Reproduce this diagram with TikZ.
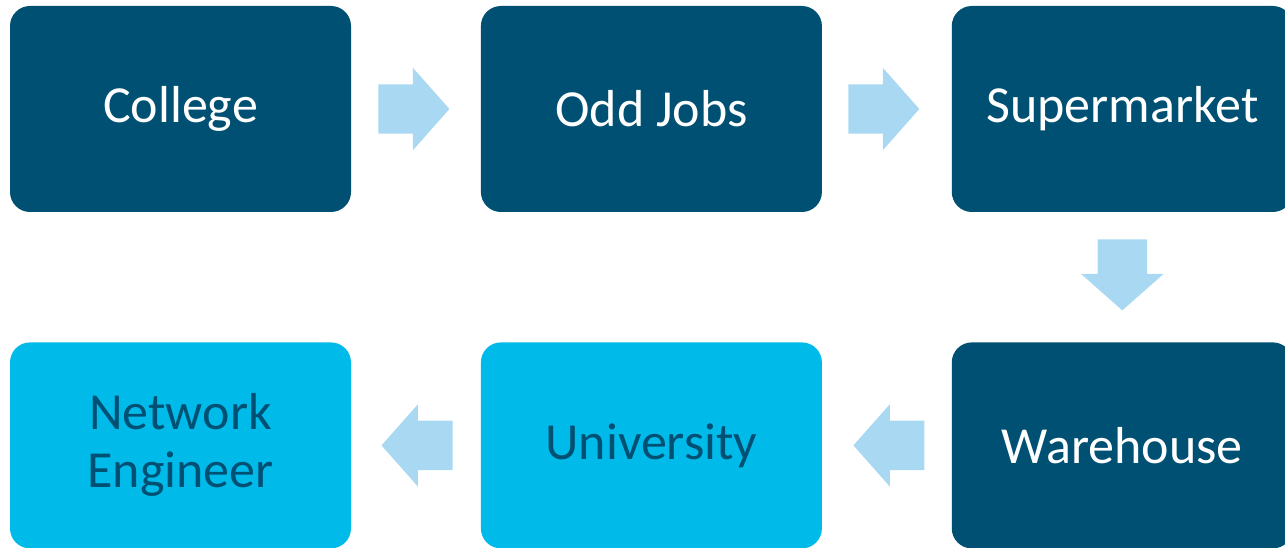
\documentclass[tikz,border=0pt]{standalone}
\usepackage{fontspec}
\setmainfont{Carlito}
\usetikzlibrary{positioning,shapes.arrows}

\definecolor{darkteal}{HTML}{005073}
\definecolor{brightcyan}{HTML}{00BBEA}
\definecolor{paleblue}{HTML}{A9D9F2}

\tikzset{
  stage/.style={rectangle, rounded corners=20pt, minimum width=341pt, minimum height=206pt,
    inner sep=0pt, align=center, font=\fontsize{52}{58}\selectfont},
  done/.style={stage, fill=darkteal, text=white},
  next/.style={stage, fill=brightcyan, text=darkteal},
  flowarrow/.style={single arrow, fill=paleblue, draw=none, inner xsep=0pt, inner ysep=24.5pt,
    minimum height=71pt, single arrow head extend=16.5pt,
    single arrow tip angle=97, anchor=tail}
}

\begin{document}
\begin{tikzpicture}[x=1pt,y=1pt]
  \clip (0,0) rectangle (1285,-548);

  % Top row, left to right
  \node[done] (college) at (180.5,-109) {College};
  \node[done, right=129.5pt of college] (oddjobs) {Odd Jobs};
  \node[done, right=129.5pt of oddjobs] (supermarket) {Supermarket};

  % Bottom row, right to left
  \node[done, below=130pt of supermarket] (warehouse) {Warehouse};
  \node[next, left=129.5pt of warehouse] (university) {University};
  \node[next, left=129.5pt of university] (engineer) {Network\\Engineer};

  % Block arrows between the stages
  \node[right=27pt of college, flowarrow] (toodd) {};
  \node[right=26pt of oddjobs, flowarrow] (tosuper) {};
  \node[below=27pt of supermarket, flowarrow, rotate=-90] (toware) {};
  \node[left=27pt of warehouse, flowarrow, rotate=180] (touni) {};
  \node[left=28pt of university, flowarrow, rotate=180] (toeng) {};
\end{tikzpicture}
\end{document}
